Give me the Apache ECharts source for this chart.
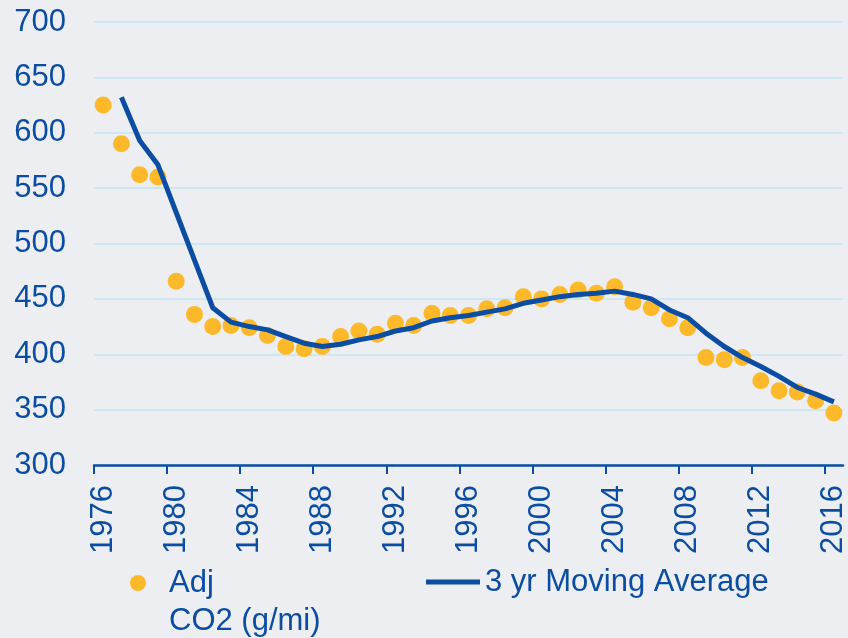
<!DOCTYPE html>
<html>
<head>
<meta charset="utf-8">
<script src="https://cdn.jsdelivr.net/npm/echarts@6/dist/echarts.min.js"></script>
<style>
  html, body { margin: 0; padding: 0; background: #eceef1; }
  #chart { width: 848px; height: 638px; }
</style>
</head>
<body>
<div id="chart"></div>
<script>
// years on the category axis
var years = [];
for (var y = 1976; y <= 2016; y++) years.push(String(y));

// adjusted CO2, g/mi (dots)
var adjCO2 = [625, 590, 562, 560, 466, 436, 425, 426, 424, 417,
              407, 405, 407, 416, 421, 418, 428, 426, 437, 435,
              435, 441, 442, 452, 450, 454, 458, 455, 461, 447,
              442, 432, 424, 397, 395, 397, 376, 367, 366, 358, 347];

// 3 yr moving average (line), no value for 1976
var movingAvg = [null, 632, 593, 571, 528, 485, 442, 429, 425, 422,
                 416, 410, 407, 409, 413, 416, 421, 424, 430, 433,
                 435, 438, 441, 446, 449, 452, 454, 455, 457, 454,
                 450, 440, 433, 419, 407, 397, 389, 380, 370, 364, 357];

var yTicks = { min: 300, max: 700, step: 50 };

// tick marks every 4 years, on the category boundaries
var tickIdx = [];
for (var i = 0; i < years.length; i += 4) tickIdx.push(i);

var blue = '#0b4da2';
var gold = '#fdb92a';
var font = "'Liberation Sans', Arial, sans-serif";

var chart = echarts.init(document.getElementById('chart'));

var option = {
    backgroundColor: '#eceef1',
    animation: false,
    textStyle: { fontFamily: font },
    grid: { left: 94, right: 5, top: 22, bottom: 173, outerBoundsMode: 'none' },
    xAxis: [{
        type: 'category',
        data: years,
        boundaryGap: true,
        axisLine: { lineStyle: { color: blue, width: 2.5 } },
        axisTick: { show: false },
        axisLabel: {
            interval: 3,
            rotate: 90,
            margin: 20,
            padding: [8, 0, 0, 0],
            color: blue,
            fontSize: 31,
            fontFamily: font
        },
        splitLine: { show: false }
    }, {
        type: 'value',
        min: 0,
        max: years.length,
        position: 'bottom',
        axisLine: { show: false },
        axisLabel: { show: false },
        splitLine: { show: false },
        axisTick: {
            show: true,
            length: 9,
            customValues: tickIdx,
            lineStyle: { color: blue, width: 2 }
        }
    }],
    yAxis: {
        type: 'value',
        min: yTicks.min,
        max: yTicks.max,
        interval: yTicks.step,
        axisLine: { show: false },
        axisTick: { show: false },
        axisLabel: { color: blue, fontSize: 31, margin: 28, fontFamily: font },
        splitLine: { lineStyle: { color: '#c4e4f4', width: 1.5 } }
    },
    legend: [{
        data: ['Adj\nCO2 (g/mi)'],
        left: 130,
        top: 526,
        padding: 0,
        icon: 'circle',
        itemWidth: 16,
        itemHeight: 16,
        // blank first line so the dot sits beside "Adj"
        formatter: function (name) { return '\n' + name; },
        textStyle: {
            color: blue, fontSize: 31, lineHeight: 38, fontFamily: font,
            padding: [0, 0, 0, 18]
        }
    }, {
        data: ['3 yr Moving Average'],
        left: 426,
        top: 563,
        padding: 0,
        icon: 'rect',
        itemWidth: 54,
        itemHeight: 5,
        itemStyle: { color: blue },
        textStyle: { color: blue, fontSize: 31, lineHeight: 38, fontFamily: font }
    }],
    series: [{
        name: 'Adj\nCO2 (g/mi)',
        type: 'scatter',
        xAxisIndex: 0,
        data: adjCO2,
        symbolSize: 17,
        itemStyle: { color: gold, opacity: 1 },
        z: 2
    }, {
        name: '3 yr Moving Average',
        type: 'line',
        xAxisIndex: 0,
        data: movingAvg,
        showSymbol: false,
        symbol: 'none',
        lineStyle: { color: blue, width: 5 },
        itemStyle: { color: blue },
        z: 3
    }]
};

chart.setOption(option);
</script>
</body>
</html>
